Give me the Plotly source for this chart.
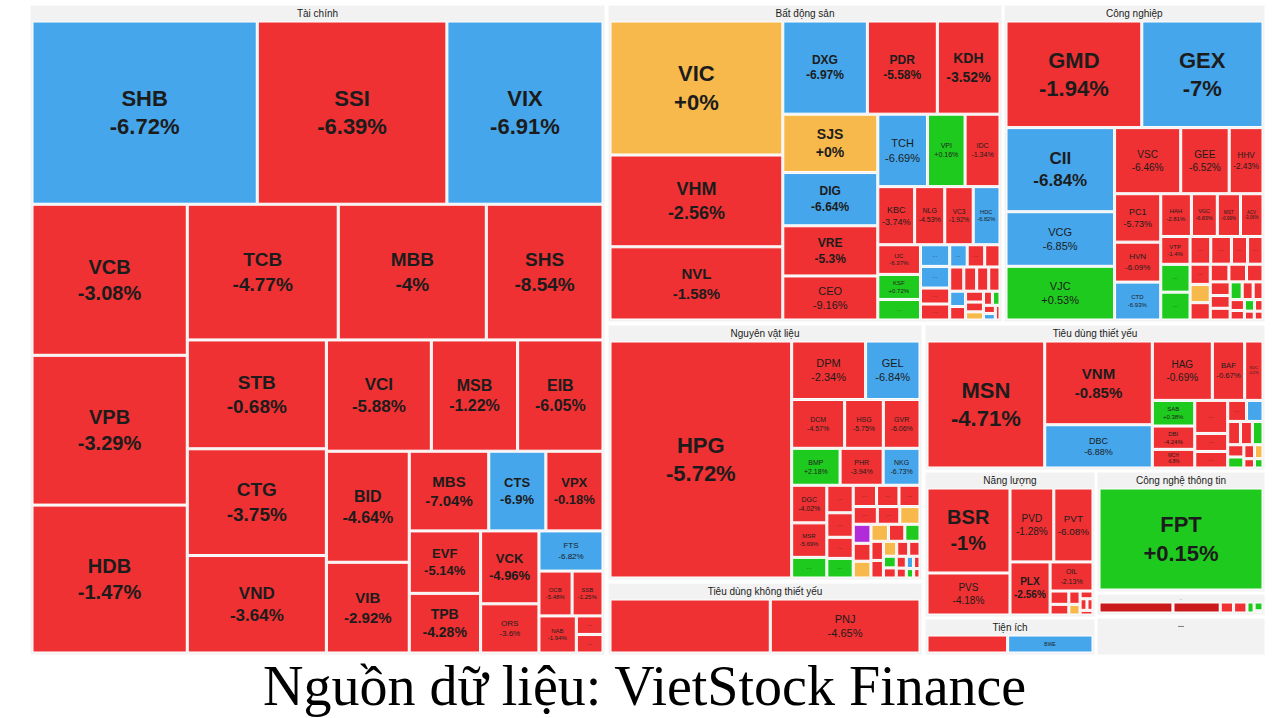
import plotly.graph_objects as go

W, H = 1284, 718

# ---------------- data ----------------
# state codes: D = giảm (red), F = sàn (blue), R = tham chiếu (yellow),
#              U = tăng (green), C = trần (purple), K = deep red
# sizes = approximate visible tile area (units of 100 px^2)

# Tài chính
fin_tickers = ["SHB", "SSI", "VIX", "VCB", "VPB", "HDB", "TCB", "MBB", "SHS", "STB", "CTG", "VND", "VCI",
               "MSB", "EIB", "BID", "VIB", "MBS", "CTS", "VPX", "EVF", "TPB", "VCK", "ORS", "FTS", "OCB", "SSB", "NAB"]
fin_changes = [-6.72, -6.39, -6.91, -3.08, -3.29, -1.47, -4.77, -4, -8.54, -0.68, -3.75, -3.64, -5.88,
               -1.22, -6.05, -4.64, -2.92, -7.04, -6.9, -0.18, -5.14, -4.28, -4.96, -3.6, -6.82, -5.48, -1.25, -1.94]
fin_sizes = [417, 351, 289, 237, 235, 232, 207, 203, 160, 153, 150, 137, 118,
             97, 96, 93, 76, 64, 46, 46, 45, 43, 43, 29, 26, 15, 14, 14]
fin_states = ["F", "D", "F", "D", "D", "D", "D", "D", "D", "D", "D", "D", "D",
              "D", "D", "D", "D", "D", "F", "D", "D", "D", "D", "D", "F", "D", "D", "D"]
fin_small_sizes = [5, 5]
fin_small_states = ["D", "D"]

# Bất động sản
bds_tickers = ["VIC", "VHM", "NVL", "DXG", "PDR", "KDH", "SJS", "DIG", "VRE", "CEO", "TCH", "VPI", "IDC",
               "KBC", "NLG", "VC3", "HDC", "IJC", "KSF"]
bds_changes = [0, -2.56, -1.58, -6.97, -5.58, -3.52, 0, -6.64, -5.3, -9.16, -6.69, 0.16, -1.34,
               -3.74, -4.53, -1.92, -6.82, -6.37, 0.72]
bds_sizes = [238, 163, 130, 81, 67, 60, 57, 52, 49, 43, 37, 28, 26, 22, 18, 17, 16, 13, 11]
bds_states = ["R", "D", "D", "F", "D", "D", "R", "F", "D", "D", "F", "U", "D", "D", "D", "D", "F", "D", "U"]
bds_small_sizes = [9, 6.5, 6.5, 4.8, 4.8, 4, 4, 3.5, 3.5, 3.2, 3, 2.8, 2.5, 2.2, 2, 1.8, 1.5, 1.3, 1.1, 1, 0.8, 0.7]
bds_small_states = ["U", "F", "F", "D", "D", "F", "D", "D", "D", "D", "D", "D", "F", "D", "D", "D",
                    "R", "D", "U", "D", "F", "D"]

# Công nghiệp
cn_tickers = ["GMD", "GEX", "CII", "VCG", "VJC", "VSC", "GEE", "HHV", "PC1", "HVN", "CTD", "HAH", "VGC",
              "MST", "ACV", "VTP"]
cn_changes = [-1.94, -7, -6.84, -6.85, 0.53, -6.46, -6.52, -2.43, -5.73, -6.09, -6.93, -2.81, -6.83,
              -0.99, -3.06, -1.4]
cn_sizes = [149, 133, 94, 61, 60, 45, 33, 23, 23, 19, 18, 13.5, 11.4, 10.2, 9.9, 8.4]
cn_states = ["D", "F", "F", "F", "U", "D", "D", "D", "D", "D", "F", "D", "D", "D", "D", "D"]
cn_small_sizes = [8.4, 8.4, 5.9, 5.9, 4.6, 4.4, 4.2, 3.8, 3.6, 3.4, 3.2, 3, 2.8, 2.6, 2.4, 2.2, 2, 1.8,
                  1.6, 1.4, 1.2, 1, 0.9, 0.8]
cn_small_states = ["U", "U", "D", "D", "D", "D", "D", "R", "D", "D", "D", "D", "D", "D", "D", "U", "D",
                   "D", "D", "D", "U", "D", "D", "D"]

# Nguyên vật liệu
nvl_tickers = ["HPG", "DPM", "GEL", "DCM", "HSG", "GVR", "BMP", "PHR", "NKG", "DGC", "MSR"]
nvl_changes = [-5.72, -2.34, -6.84, -4.57, -5.75, -6.06, 2.18, -3.94, -6.73, -4.02, -5.69]
nvl_sizes = [433, 43.5, 32, 26, 19, 18, 18, 16, 13.7, 13.3, 12.2]
nvl_states = ["D", "D", "F", "D", "D", "D", "U", "D", "F", "D", "D"]
nvl_small_sizes = [7.3, 7.3, 6.5, 5.6, 5.2, 5, 4.8, 4.5, 4.3, 4, 3.6, 3.4, 3.2, 3, 3, 2.8, 2.6, 2.4,
                   2.2, 2, 1.8, 1.7, 1.5, 1.3, 1.2, 1, 0.9, 0.8, 0.7, 0.6]
nvl_small_states = ["U", "D", "D", "D", "U", "D", "D", "D", "D", "D", "R", "C", "D", "R", "R", "D",
                    "U", "D", "D", "R", "D", "D", "U", "D", "D", "D", "F", "D", "U", "D"]

# Tiêu dùng không thiết yếu
tdk_tickers = ["", "PNJ"]
tdk_changes = [None, -4.65]
tdk_sizes = [91, 85]
tdk_states = ["D", "D"]

# Tiêu dùng thiết yếu
tdt_tickers = ["MSN", "VNM", "DBC", "HAG", "BAF", "KDC", "SAB", "DBI", "MCH"]
tdt_changes = [-4.71, -0.85, -6.88, -0.69, -0.67, -0.2, 0.38, -4.24, -6.8]
tdt_sizes = [151, 91, 47, 36, 19.4, 11, 11, 10, 8]
tdt_states = ["D", "D", "F", "D", "D", "D", "U", "D", "D"]
tdt_small_sizes = [11, 6, 5.5, 4, 3.5, 3, 2.8, 2.5, 2, 1.8, 1.5, 1.2, 1, 0.8]
tdt_small_states = ["D", "D", "D", "D", "F", "D", "D", "U", "D", "U", "D", "R", "D", "U"]

# Năng lượng
nl_tickers = ["BSR", "PVS", "PVD", "PVT", "PLX", "OIL"]
nl_changes = [-1, -4.18, -1.28, -6.08, -2.56, -2.13]
nl_sizes = [70.6, 34.9, 32.4, 29, 21.3, 12.5]
nl_states = ["D", "D", "D", "D", "D", "D"]
nl_small_sizes = [2.5, 2, 1.5, 1.2, 1, 0.8, 0.7, 0.6]
nl_small_states = ["D", "D", "D", "R", "D", "D", "D", "D"]

# Tiện ích
ti_tickers = ["", "BWE"]
ti_changes = [None, None]
ti_sizes = [17, 18]
ti_states = ["D", "F"]

# Công nghệ thông tin
it_tickers = ["FPT"]
it_changes = [0.15]
it_sizes = [160]
it_states = ["U"]

# "..." groups
o1_small_sizes = [8.3, 5.3, 1.5, 1.5, 0.8, 0.8, 0.2]
o1_small_states = ["K", "K", "D", "D", "U", "U", "D"]

# ---------------- styles ----------------
COLORS = {"D": "#EF3133", "F": "#45A6EB", "R": "#F7B94B", "U": "#1FCA1F", "C": "#B22BD8", "K": "#C9191B"}
HEADER_BG = "#F2F2F2"
TXT = "#1c1c1c"
FONT = "Liberation Sans, Arial, sans-serif"

fin_fonts = [22, 22, 22, 20, 20, 20, 19, 19, 19, 19, 19, 17, 17, 16, 16, 16, 15, 15, 13, 13, 13, 14, 13, 8, 8, 6, 6, 6]
bds_fonts = [22, 18, 15, 12, 12, 14, 14, 12, 12, 11, 11, 7, 7, 9, 8, 7, 6, 6, 6]
cn_fonts = [22, 22, 17, 11, 11, 10, 10, 9, 9, 8, 6, 6, 6, 6, 6, 6]
nvl_fonts = [22, 11, 11, 7, 7, 7, 7, 7, 7, 7, 6]
tdk_fonts = [11, 11]
tdt_fonts = [22, 15, 9, 10, 10, 6, 6, 6, 6]
nl_fonts = [20, 10, 10, 10, 12, 7]
ti_fonts = [5, 5]
it_fonts = [22]

# sector boxes in pixels (x0, y0, x1, y1)
boxes = {
    "fin": (30, 5, 605, 655), "bds": (608, 5, 1002, 322), "cn": (1004, 5, 1265, 322),
    "nvl": (608, 325, 922, 580), "tdk": (608, 583, 922, 655), "tdt": (925, 325, 1265, 470),
    "nl": (925, 472, 1095, 617), "ti": (925, 619, 1095, 655), "it": (1097, 472, 1265, 592),
    "o1": (1097, 594, 1265, 615), "o2": (1097, 618, 1265, 655),
}

PHI = 1.618034


def fmt(c):
    s = f"{c:+.2f}".rstrip("0").rstrip(".")
    return s + "%"


def tile_text(t, c, f):
    if not t:
        return ""
    if c is None:
        return t
    if f >= 12:
        return f"<b>{t}</b><br><b>{fmt(c)}</b>"
    return f"{t}<br>{fmt(c)}"


def sector(name, box, tickers=(), changes=(), sizes=(), states=(), fonts=(),
           small_sizes=(), small_states=(), ratio=1.0, head=17, head_font=10, leaf_root=False):
    ids, labels, parents, values, texts, colors, tf = ["root"], [name], [""], [0], [f"<b>{name}</b>"], [HEADER_BG], [head_font]
    for i, (t, c, s, st, f) in enumerate(zip(tickers, changes, sizes, states, fonts)):
        ids.append(f"m{i}")
        labels.append(t or f"m{i}")
        parents.append("root")
        values.append(s)
        texts.append(tile_text(t, c, f))
        colors.append(COLORS[st])
        tf.append(f)
    for i, (s, st) in enumerate(zip(small_sizes, small_states)):
        ids.append(f"s{i}")
        labels.append(f"s{i}")
        parents.append("root")
        values.append(s)
        texts.append("···" if s >= 4 else "")
        colors.append(COLORS[st])
        tf.append(5)
    x0, y0, x1, y1 = box
    return go.Treemap(
        ids=ids, labels=labels, parents=parents, values=values,
        branchvalues="remainder", sort=False,
        text=texts, textinfo="text",
        textposition="top center" if leaf_root else "middle center",
        textfont=dict(size=tf, color=TXT, family=FONT),
        marker=dict(colors=colors, line=dict(color="white", width=1),
                    pad=dict(t=head, l=3, r=3, b=3), depthfade=False),
        tiling=dict(packing="squarify", squarifyratio=ratio, pad=2),
        pathbar=dict(visible=False),
        hoverinfo="skip",
        domain=dict(x=[x0 / W, x1 / W], y=[1 - y1 / H, 1 - y0 / H]),
    )


traces = [
    sector("Tài chính", boxes["fin"], fin_tickers, fin_changes, fin_sizes, fin_states, fin_fonts,
           fin_small_sizes, fin_small_states, ratio=1.0),
    sector("Bất động sản", boxes["bds"], bds_tickers, bds_changes, bds_sizes, bds_states, bds_fonts,
           bds_small_sizes, bds_small_states, ratio=PHI),
    sector("Công nghiệp", boxes["cn"], cn_tickers, cn_changes, cn_sizes, cn_states, cn_fonts,
           cn_small_sizes, cn_small_states, ratio=1.3),
    sector("Nguyên vật liệu", boxes["nvl"], nvl_tickers, nvl_changes, nvl_sizes, nvl_states, nvl_fonts,
           nvl_small_sizes, nvl_small_states, ratio=1.0),
    sector("Tiêu dùng không thiết yếu", boxes["tdk"], tdk_tickers, tdk_changes, tdk_sizes, tdk_states, tdk_fonts),
    sector("Tiêu dùng thiết yếu", boxes["tdt"], tdt_tickers, tdt_changes, tdt_sizes, tdt_states, tdt_fonts,
           tdt_small_sizes, tdt_small_states, ratio=PHI),
    sector("Năng lượng", boxes["nl"], nl_tickers, nl_changes, nl_sizes, nl_states, nl_fonts,
           nl_small_sizes, nl_small_states, ratio=1.0),
    sector("Tiện ích", boxes["ti"], ti_tickers, ti_changes, ti_sizes, ti_states, ti_fonts),
    sector("Công nghệ thông tin", boxes["it"], it_tickers, it_changes, it_sizes, it_states, it_fonts),
    sector("...", boxes["o1"], small_sizes=o1_small_sizes, small_states=o1_small_states, head=9, head_font=7),
    sector("...", boxes["o2"], head=9, head_font=7, leaf_root=True),
]

fig = go.Figure(traces)
fig.update_layout(
    width=W, height=H,
    margin=dict(l=0, r=0, t=0, b=0),
    paper_bgcolor="white", plot_bgcolor="white",
    showlegend=False,
    annotations=[dict(
        text="Nguồn dữ liệu: VietStock Finance",
        x=0.502, y=1 - 686 / H, xref="paper", yref="paper",
        xanchor="center", yanchor="middle", showarrow=False,
        font=dict(family="Liberation Serif, Times New Roman, serif", size=56, color="black"),
    )],
)
fig.write_html("out.html")
